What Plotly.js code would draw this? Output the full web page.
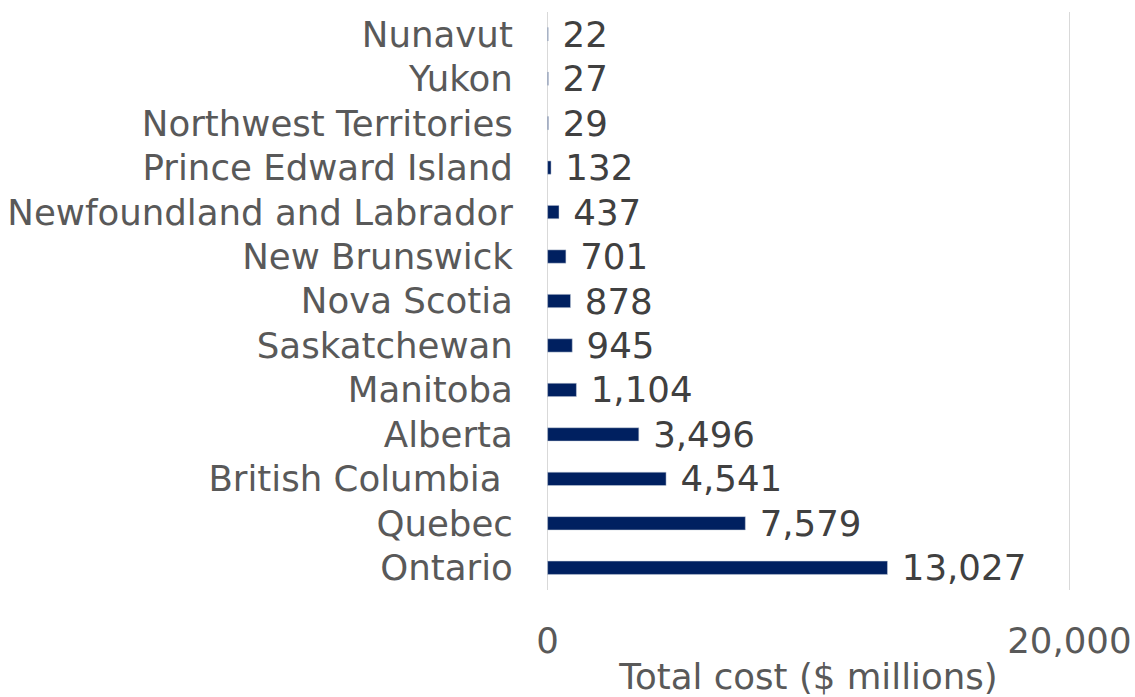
<!DOCTYPE html>
<html>
<head>
<meta charset="utf-8">
<script src="https://cdn.plot.ly/plotly-3.0.1.min.js"></script>
<style>
  body { margin: 0; background: #fff; }
  #chart { width: 1135px; height: 697px; }
</style>
</head>
<body>
<div id="chart"></div>
<script>
// provinces, bottom to top as drawn
var provinces = ['Ontario', 'Quebec', 'British Columbia ', 'Alberta', 'Manitoba', 'Saskatchewan',
    'Nova Scotia', 'New Brunswick', 'Newfoundland and Labrador', 'Prince Edward Island',
    'Northwest Territories', 'Yukon', 'Nunavut'];
var totalCost = [13027, 7579, 4541, 3496, 1104, 945, 878, 701, 437, 132, 29, 27, 22];
var xTicks = [0, 20000];
var xTickText = ['0', '20,000'];

var font = 'DejaVu Sans, Verdana, sans-serif';
var fs = 35.6;

var trace = {
    type: 'bar',
    orientation: 'h',
    y: provinces,
    x: totalCost,
    marker: { color: '#002060', line: { color: '#c9d0dc', width: 0.5 } },
    texttemplate: ' %{x:,}',
    textposition: 'outside',
    constraintext: 'none',
    cliponaxis: false,
    textfont: { family: font, size: fs, color: '#404040' },
    hoverinfo: 'none'
};

var layout = {
    width: 1135,
    height: 697,
    margin: { l: 545, r: 63, t: 12, b: 107 },
    paper_bgcolor: '#fff',
    plot_bgcolor: '#fff',
    showlegend: false,
    bargap: 0.7,
    font: { family: font, color: '#595959', size: fs },
    xaxis: {
        // small pad so the gridlines at 0 and 20,000 are not clipped at the edges
        range: [-100, 20100],
        tickvals: xTicks,
        ticktext: xTickText,
        showgrid: true,
        gridcolor: '#d9d9d9',
        gridwidth: 1.5,
        zeroline: false,
        showline: false,
        ticks: 'outside',
        ticklen: 19,
        tickcolor: 'rgba(0,0,0,0)',
        tickfont: { family: font, size: fs, color: '#595959' },
        title: { text: 'Total cost ($ millions)', font: { family: font, size: fs, color: '#595959' }, standoff: 6 }
    },
    yaxis: {
        categoryorder: 'array',
        categoryarray: provinces,
        showgrid: false,
        zeroline: false,
        showline: false,
        ticks: 'outside',
        ticklen: 24,
        tickcolor: 'rgba(0,0,0,0)',
        tickfont: { family: font, size: fs, color: '#595959' }
    }
};

Plotly.newPlot('chart', [trace], layout, { displayModeBar: false, staticPlot: true });
</script>
</body>
</html>
